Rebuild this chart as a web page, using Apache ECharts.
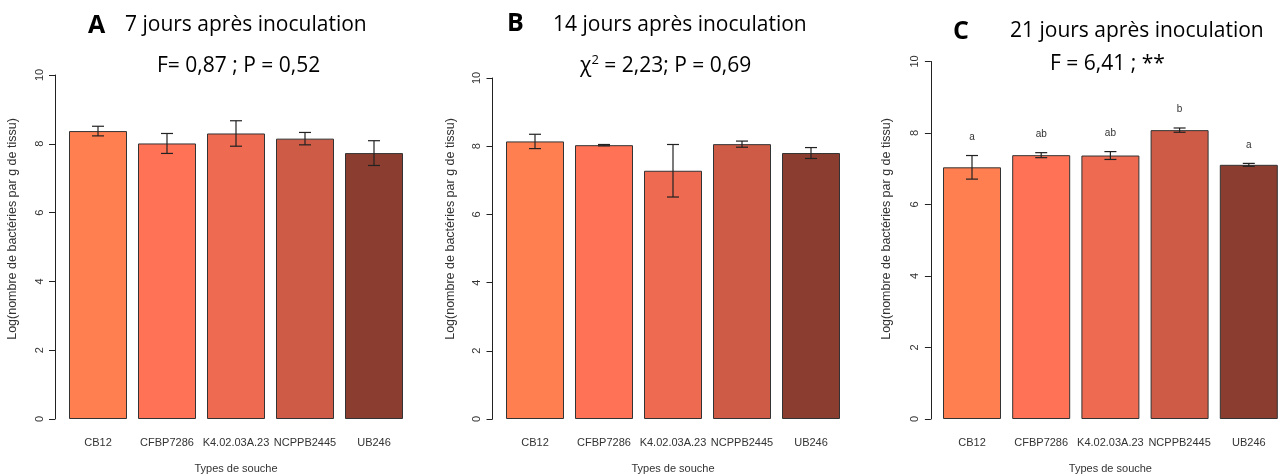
<!DOCTYPE html>
<html>
<head>
<meta charset="utf-8">
<script src="https://cdn.jsdelivr.net/npm/echarts@6/dist/echarts.min.js"></script>
<style>
  html, body { margin: 0; padding: 0; background: #fff; }
  #chart { width: 1279px; height: 475px; }
</style>
</head>
<body>
<div id="chart"></div>
<script>
// souches testées (meme ordre dans les 3 panneaux)
const strains = ['CB12', 'CFBP7286', 'K4.02.03A.23', 'NCPPB2445', 'UB246']
const barColors = ['#FF7F50', '#FF7256', '#EE6A50', '#CD5B45', '#8B3E2F']

// 7 jours
const meanA = [8.37, 8.01, 8.30, 8.15, 7.73]
const seA = [0.14, 0.29, 0.37, 0.18, 0.36]
// 14 jours
const meanB = [8.14, 8.03, 7.28, 8.06, 7.80]
const seB = [0.21, 0.02, 0.77, 0.09, 0.16]
// 21 jours
const meanC = [7.04, 7.38, 7.37, 8.08, 7.11]
const seC = [0.33, 0.07, 0.11, 0.06, 0.04]
const lettersC = ['a', 'ab', 'ab', 'b', 'a']

const yTicks = [0, 2, 4, 6, 8, 10]
const yName = 'Log(nombre de bactéries par g de tissu)'
const xName = 'Types de souche'

const titleFont = 'Open Sans'
const rFont = 'Liberation Sans'

const panels = [
  { grid: { left: 63.5, top: 75, width: 345, height: 344 }, offset: 8.5, mean: meanA, se: seA, yNameX: 13 },
  { grid: { left: 500.5, top: 78, width: 345, height: 341 }, offset: 8, mean: meanB, se: seB, yNameX: 451 },
  { grid: { left: 937.4, top: 61.5, width: 346, height: 357.5 }, offset: 6.5, mean: meanC, se: seC, yNameX: 887 }
]

function errorBar (params, api) {
  const x = api.value(0)
  const lo = api.coord([x, api.value(1)])
  const hi = api.coord([x, api.value(2)])
  const st = { stroke: '#222', lineWidth: 1.2 }
  return {
    type: 'group',
    children: [
      { type: 'line', shape: { x1: hi[0], y1: hi[1], x2: lo[0], y2: lo[1] }, style: st },
      { type: 'line', shape: { x1: hi[0] - 6, y1: hi[1], x2: hi[0] + 6, y2: hi[1] }, style: st },
      { type: 'line', shape: { x1: lo[0] - 6, y1: lo[1], x2: lo[0] + 6, y2: lo[1] }, style: st }
    ]
  }
}

function title (text, left, top, bold) {
  return {
    text: text, left: left, top: top, padding: 0,
    textStyle: {
      fontFamily: titleFont, fontSize: bold ? 25 : 21, fontWeight: bold ? 'bold' : 'normal', color: '#000',
      rich: { sup: { fontFamily: titleFont, fontSize: 13, color: '#000', verticalAlign: 'top', padding: [0, 0, 12, 0] } }
    }
  }
}

const options = {
  backgroundColor: '#fff',
  animation: false,
  title: [
    title('A', 88, 13, true),
    title('7 jours après inoculation', 125, 15),
    title('F= 0,87 ; P = 0,52', 157, 56),
    title('B', 507, 11, true),
    title('14 jours après inoculation', 553, 15),
    title('χ{sup|2} = 2,23; P = 0,69', 580, 54),
    title('C', 953, 19, true),
    title('21 jours après inoculation', 1010, 21),
    title('F = 6,41 ; **', 1050, 54)
  ],
  grid: panels.map(p => Object.assign({ outerBoundsMode: 'none', containLabel: false }, p.grid)),
  xAxis: panels.map((p, i) => ({
    type: 'category',
    gridIndex: i,
    data: strains,
    axisLine: { show: false },
    axisTick: { show: false },
    axisLabel: { interval: 0, margin: 18, fontFamily: rFont, fontSize: 11, color: '#333' },
    name: xName,
    nameLocation: 'middle',
    nameGap: 44,
    nameTextStyle: { fontFamily: rFont, fontSize: 11, color: '#333' }
  })),
  yAxis: panels.map((p, i) => ({
    type: 'value',
    gridIndex: i,
    min: yTicks[0],
    max: yTicks[yTicks.length - 1],
    interval: 2,
    offset: p.offset,
    axisLine: { show: true, lineStyle: { color: '#222', width: 1 } },
    axisTick: { show: true, length: 6, lineStyle: { color: '#222' } },
    splitLine: { show: false },
    axisLabel: { rotate: 90, margin: 10, fontFamily: rFont, fontSize: 11, color: '#333' }
  })),
  graphic: panels.map(p => ({
    type: 'text',
    x: p.yNameX,
    y: 229,
    rotation: Math.PI / 2,
    style: { text: yName, font: '12.5px "Liberation Sans"', fill: '#333', align: 'center', verticalAlign: 'middle' }
  })),
  series: []
}

panels.forEach((p, i) => {
  options.series.push({
    type: 'bar',
    xAxisIndex: i,
    yAxisIndex: i,
    barWidth: 58,
    data: p.mean.map((v, k) => ({ value: v, itemStyle: { color: barColors[k], borderColor: '#333', borderWidth: 1 } }))
  })
  options.series.push({
    type: 'custom',
    xAxisIndex: i,
    yAxisIndex: i,
    renderItem: errorBar,
    data: p.mean.map((v, k) => [k, v - p.se[k], v + p.se[k]]),
    z: 5
  })
})

// lettres de groupes (Tukey) au-dessus des barres, panneau C
options.series.push({
  type: 'custom',
  xAxisIndex: 2,
  yAxisIndex: 2,
  renderItem: (params, api) => {
    const pt = api.coord([api.value(0), api.value(1)])
    return {
      type: 'text',
      x: pt[0],
      y: pt[1],
      style: { text: lettersC[params.dataIndex], font: '10px "Liberation Sans"', fill: '#333', align: 'center', verticalAlign: 'middle' }
    }
  },
  data: meanC.map((v, k) => [k, v + seC[k] + 0.52]),
  z: 6
})

const chart = echarts.init(document.getElementById('chart'))
chart.setOption(options)
</script>
</body>
</html>
